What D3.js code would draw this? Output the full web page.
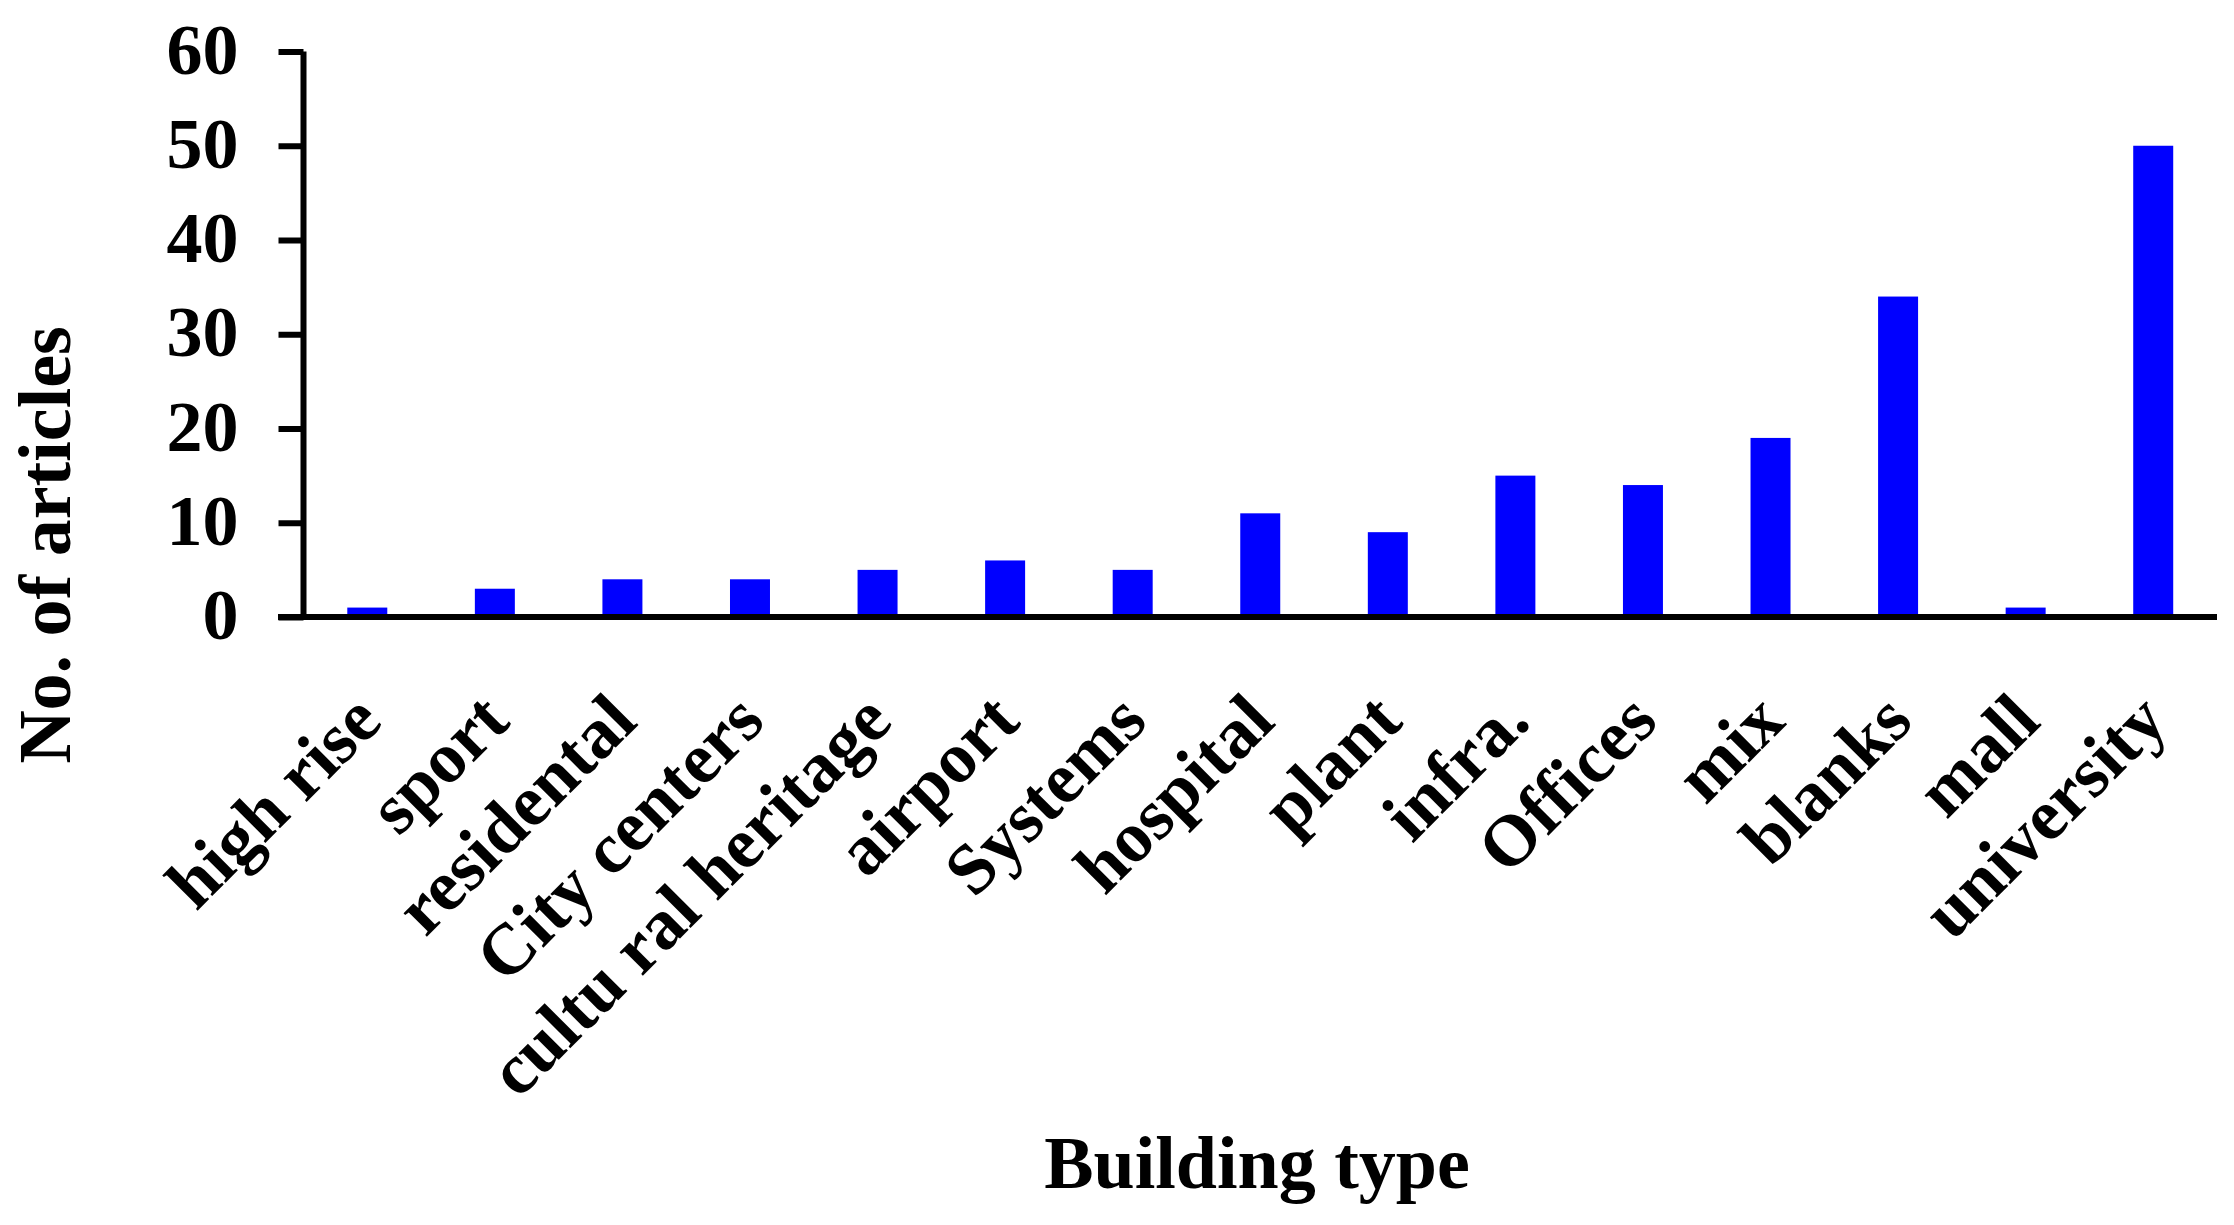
<!DOCTYPE html>
<html>
<head>
<meta charset="utf-8">
<script src="https://cdn.jsdelivr.net/npm/d3@7"></script>
<style>
  html, body { margin: 0; padding: 0; background: #ffffff; }
  svg { display: block; }
  text { font-family: "Liberation Serif", "Times New Roman", serif; font-weight: bold; fill: #000; }
</style>
</head>
<body>
<script>
const categories = ["high rise", "sport", "residental", "City centers", "cultu ral heritage", "airport", "Systems", "hospital", "plant", "infra.", "Offices", "mix", "blanks", "mall", "university"];
const articleCounts = [1, 3, 4, 4, 5, 6, 5, 11, 9, 15, 14, 19, 34, 1, 50];
const yTicks = [0, 10, 20, 30, 40, 50, 60];
const xTitle = "Building type";
const yTitle = "No. of articles";

const W = 2234, H = 1225;
const svg = d3.select("body").append("svg").attr("width", W).attr("height", H);

const x = d3.scaleBand().domain(categories).range([303.5, 2217]).paddingInner(0.6865).paddingOuter(0.6865 / 2);
const y = d3.scaleLinear().domain([0, 60]).range([617, 51.5]);

// bars
svg.append("g").selectAll("rect").data(categories).join("rect")
  .attr("x", d => x(d))
  .attr("y", (d, i) => y(articleCounts[i]))
  .attr("width", x.bandwidth())
  .attr("height", (d, i) => y(0) - y(articleCounts[i]))
  .attr("fill", "#0000ff");

// y axis
const yAxis = d3.axisLeft(y).tickValues(yTicks).tickSize(25).tickPadding(40).tickFormat(d3.format("d"));
const gy = svg.append("g").attr("transform", "translate(303.5,0)").call(yAxis);
gy.select(".domain").attr("stroke", "#000").attr("stroke-width", 6).attr("d", `M0,${y(60)}V${y(0)}`);
gy.selectAll(".tick line").attr("stroke", "#000").attr("stroke-width", 6);
gy.selectAll(".tick text").attr("font-size", 72).attr("dy", "0.3em")
  .style("font-family", "'Liberation Serif', serif").style("font-weight", "bold");

// x axis
const xAxis = d3.axisBottom(x).tickSize(0).tickPadding(0);
const gx = svg.append("g").attr("transform", `translate(0,${y(0)})`).call(xAxis);
gx.select(".domain").attr("stroke", "#000").attr("stroke-width", 6).attr("d", `M278,0H2217`);
gx.selectAll(".tick text")
  .attr("font-size", 72)
  .attr("text-anchor", "end")
  .attr("dy", 0)
  .attr("y", 0)
  .attr("transform", "translate(17,107) rotate(-45)")
  .style("font-family", "'Liberation Serif', serif").style("font-weight", "bold");

// titles
svg.append("text").attr("x", 1257).attr("y", 1188).attr("text-anchor", "middle").attr("font-size", 74).text(xTitle);
svg.append("text").attr("transform", "translate(70,545) rotate(-90)").attr("text-anchor", "middle").attr("font-size", 74).text(yTitle);
</script>
</body>
</html>
